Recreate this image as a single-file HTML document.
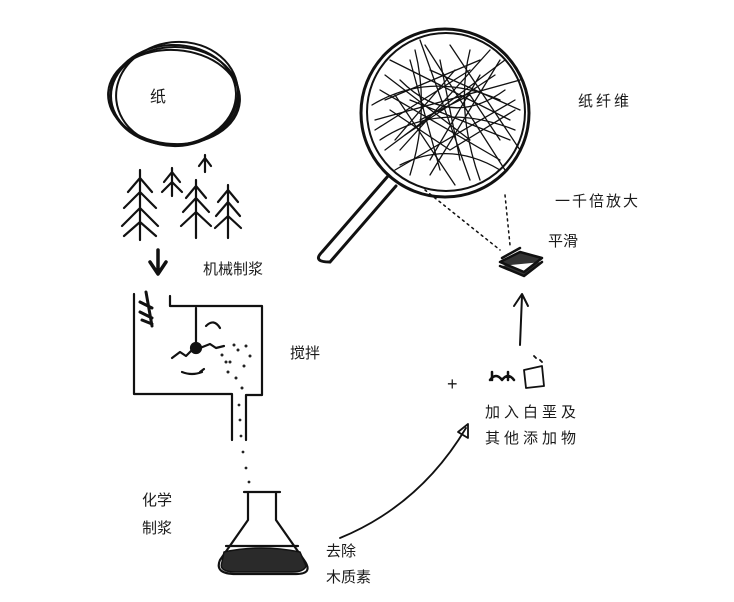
<!DOCTYPE html>
<html><head><meta charset="utf-8">
<style>
html,body{margin:0;padding:0;background:#fff;width:734px;height:602px;overflow:hidden}
svg{display:block}
text{font-family:"Liberation Sans","Noto Sans CJK SC",sans-serif;fill:#1a1a1a}
</style></head>
<body>
<svg width="734" height="602" viewBox="0 0 734 602" fill="none" stroke="#111" stroke-linecap="round" stroke-linejoin="round">
<g stroke-width="2">
<ellipse cx="175" cy="96" rx="64" ry="49"/>
<ellipse cx="177" cy="94" rx="61" ry="52" transform="rotate(-6 177 94)"/>
<ellipse cx="174" cy="97" rx="66" ry="47" transform="rotate(4 174 97)"/>
<ellipse cx="173" cy="95" rx="63" ry="50" transform="rotate(-2 173 95)"/>
</g>
<text x="150" y="102" font-size="16" stroke="none">纸</text>
<g stroke-width="2.2">
<path d="M140 170 L140 240 M140 178 l-12 14 M140 178 l12 14 M140 192 l-16 16 M140 192 l16 16 M140 208 l-18 18 M140 208 l18 18 M140 222 l-16 14 M140 222 l16 14"/>
<path d="M172 168 L172 196 M172 172 l-8 10 M172 172 l8 10 M172 182 l-10 10 M172 182 l10 10"/>
<path d="M196 180 L196 238 M196 186 l-10 12 M196 186 l10 12 M196 198 l-13 14 M196 198 l13 14 M196 212 l-15 14 M196 212 l15 14"/>
<path d="M205 155 L205 172 M205 158 l-6 8 M205 158 l6 8"/>
<path d="M228 185 L228 238 M228 190 l-10 12 M228 190 l10 12 M228 202 l-12 14 M228 202 l12 14 M228 216 l-13 12 M228 216 l13 12"/>
</g>
<path d="M158 250 L158 272 M150 262 L158 274 L166 262" stroke-width="3.5"/>
<text x="203" y="274" font-size="15" stroke="none">机械制浆</text>
<g stroke-width="2.2">
<path d="M134 294 L134 394 L232 394 L232 440"/>
<path d="M170 296 L170 306 L262 306 L262 395 L246 395 L246 440"/>
<path d="M146 292 L152 326 M140 302 l12 6 M140 312 l12 6 M142 320 l10 4" stroke-width="3"/>
<path d="M196 308 L196 346 M172 358 l8 -6 l6 4 l8 -8 M200 348 l10 -4 l6 4 l8 -2"/>
<circle cx="196" cy="348" r="5" fill="#111"/>
<path d="M206 326 q8 -8 14 2 M182 372 q10 4 20 0 M200 372 l4 -3"/>
</g>
<g fill="#222" stroke="none">
<circle cx="222" cy="355" r="1.5"/><circle cx="230" cy="362" r="1.5"/><circle cx="238" cy="350" r="1.5"/><circle cx="244" cy="366" r="1.5"/><circle cx="228" cy="372" r="1.5"/><circle cx="250" cy="356" r="1.5"/><circle cx="236" cy="378" r="1.5"/><circle cx="242" cy="388" r="1.5"/><circle cx="226" cy="362" r="1.5"/><circle cx="246" cy="346" r="1.5"/><circle cx="239" cy="405" r="1.4"/><circle cx="240" cy="420" r="1.4"/><circle cx="241" cy="436" r="1.4"/><circle cx="243" cy="452" r="1.4"/><circle cx="246" cy="468" r="1.4"/><circle cx="249" cy="482" r="1.4"/><circle cx="234" cy="345" r="1.5"/>
</g>
<text x="290" y="358" font-size="15" stroke="none">搅拌</text>
<g stroke-width="2.2">
<path d="M248 492 L248 520 L220 560 Q214 574 236 574 L296 574 Q314 574 304 560 L276 520 L276 492 M244 492 L280 492"/>
<path d="M226 546 L298 546"/>
<path d="M224 552 Q260 544 300 552 L306 566 Q304 572 292 572 L236 572 Q218 572 222 562 Z" fill="#2a2a2a" stroke-width="1.5"/>
</g>
<text x="142" y="505" font-size="15" stroke="none">化学</text>
<text x="142" y="533" font-size="15" stroke="none">制浆</text>
<text x="326" y="556" font-size="15" stroke="none">去除</text>
<text x="326" y="582" font-size="15" stroke="none">木质素</text>
<path d="M340 538 Q420 505 466 428" stroke-width="1.8"/>
<path d="M458 432 L468 424 L468 438 Z" stroke-width="1.8"/>
<text x="447" y="390" font-size="18" stroke="none">+</text>
<path d="M490 380 q6 -8 12 0 q6 -8 12 0 M492 372 l0 8 M508 372 l0 8" stroke-width="2.5"/>
<path d="M524 370 L542 366 L544 386 L526 388 Z M534 356 l2 2 M540 360 l2 2" stroke-width="1.8"/>
<text x="485" y="417" font-size="15" stroke="none" letter-spacing="4">加入白垩及</text>
<text x="485" y="443" font-size="15" stroke="none" letter-spacing="4">其他添加物</text>
<path d="M520 345 L522 296 M514 306 L522 294 L528 306" stroke-width="2"/>
<path d="M500 262 L520 252 L542 258 L524 272 Z M500 266 L524 276 L542 262 M502 258 l18 -10" stroke-width="2.5" fill="#333"/>
<text x="548" y="246" font-size="15" stroke="none">平滑</text>
<g stroke-width="3">
<circle cx="445" cy="113" r="84"/>
<circle cx="446" cy="112" r="79" stroke-width="2"/>
<path d="M388 176 L322 252 M396 186 L330 262 M322 252 Q312 262 330 262"/>
</g>
<g stroke-width="1.3">
<path d="M380 90 L500 160 M390 60 L510 120 M400 150 L490 50 M420 40 L470 180 M375 120 L520 80 M395 170 L515 100 M410 60 L440 170 M450 45 L520 150 M385 100 L480 60 M430 175 L500 60 M380 140 Q440 100 515 130 M400 80 Q450 130 505 90 M420 120 L470 95 L500 140 M390 110 L450 150 L515 110 M440 60 L460 160 M405 135 L495 75"/>
<path d="M372 105 Q430 70 500 100 M385 75 L470 140 M415 50 Q430 110 410 175 M470 50 Q455 110 480 180 M375 130 L470 70 M400 165 Q450 140 500 170 M430 70 L520 110 M395 95 L455 185 M455 70 L395 140 M480 75 L430 160 M410 100 L510 140 M425 45 L505 170 M385 150 L505 60"/>
</g>
<path d="M425 190 L500 250 M505 195 L510 245" stroke-width="1.5" stroke-dasharray="2 4"/>
<text x="578" y="106" font-size="15" stroke="none" letter-spacing="3">纸纤维</text>
<text x="555" y="206" font-size="15" stroke="none" letter-spacing="2">一千倍放大</text>
</svg>
</body></html>
